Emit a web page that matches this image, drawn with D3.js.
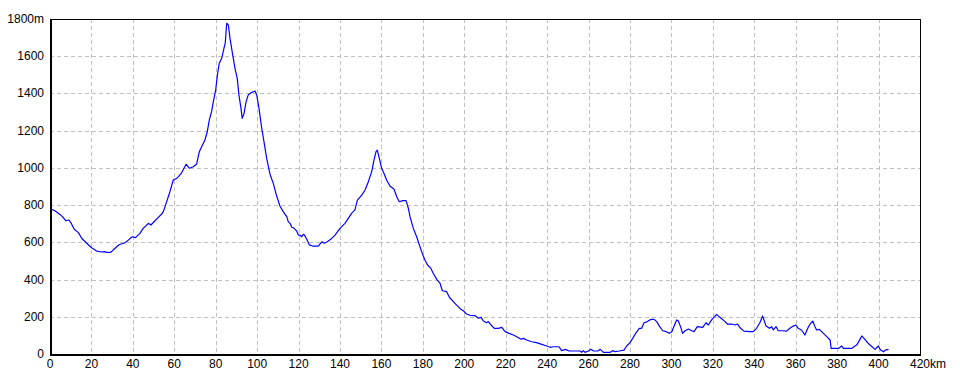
<!DOCTYPE html>
<html>
<head>
<meta charset="utf-8">
<script src="https://cdn.jsdelivr.net/npm/d3@7"></script>
<style>
  html, body { margin: 0; padding: 0; background: #fff; }
  svg { display: block; }
  text { font-family: "Liberation Sans", Arial, sans-serif; font-size: 12px; fill: #000; }
</style>
</head>
<body>
<svg id="chart" width="960" height="384"></svg>
<script>
// Distance along route (km)
const distanceKm = [0,2.4,4.8,6,7.6,9.2,10.1,11.7,13.7,15.3,17.7,20.1,22.5,25,26.3,27.4,29.3,31.4,33.3,36.2,37.8,39.7,41.3,43.4,45,47.5,48.7,50.7,52.3,53.9,54.7,55.8,57.9,59.5,61.2,62,63.6,65.7,67.3,69.2,70.8,72.1,73.2,74.8,75.9,76.9,78,78.8,80,80.8,81.7,82.9,84,84.6,85.3,86.1,86.9,88.2,89.3,90.4,91.2,92.2,92.8,93.7,94.6,95.7,97.4,99,99.8,100.9,102.2,103.3,104.6,106.2,107.8,109.2,111,112.6,113.4,114.3,115,115.9,116.7,117.5,118.3,119.1,119.9,120.7,121.5,122.3,122.8,123.9,125.2,126.8,128.4,129.5,131.2,132.3,133.9,135.5,137.6,140,142.4,144,145.6,147.2,148.4,150.5,152.1,153.7,155.3,156.4,157.4,158,159,160.1,161.2,162.5,164.1,166.1,167.4,168.6,170.3,171.9,173,173.8,175.4,177,178.6,179.4,181,182.3,183.9,185,186.7,188.3,189.4,191.5,192.8,194.7,196.3,197.9,199.5,201.1,202.8,205.2,206.8,208.1,209.2,210.8,211.6,212.9,214.5,216.4,218.1,219.7,221.6,223.7,225.3,227.4,228.5,230.1,232.5,234.9,237.4,239.8,241.4,243,245.7,247,248.9,250.6,252.7,255.9,256.7,257.5,258.3,259.9,261.1,262.4,264.5,265.6,267.2,270.5,271.6,272.9,274.8,277.1,278.4,280,281.3,282.9,284.5,285.6,286.8,288.4,290,291.6,292.9,294.2,295.8,297.5,299,300.2,301.3,302.5,303.3,304.4,305.4,306.6,308.2,309.8,310.9,312.5,315.1,316.7,317.8,319.4,321.8,323.4,325.9,327,329.1,330.7,331.9,333.4,335,337.9,339.5,341.1,342.7,344,344.4,345.7,347.3,348.4,349.2,350.5,351.6,353.7,355.6,357.2,358.8,360.1,361.2,362.8,364.4,366,367.2,368.2,369.3,370.1,371.4,373.4,375,376.6,377.1,379,380.6,381.4,382.2,383,385,387,388.1,389.4,390.7,391.9,393,394.3,395.9,398.3,399.9,401,402.4,403.2,404.8];
// Elevation (m)
const elevationM = [780,770,750,738,716,720,705,670,652,622,595,571,553,548,550,546,546,568,587,598,612,630,625,648,675,702,693,716,734,752,765,800,872,935,944,953,975,1020,998,1006,1021,1087,1114,1150,1194,1257,1302,1352,1419,1499,1562,1589,1643,1670,1777,1768,1696,1607,1535,1481,1392,1320,1266,1293,1352,1392,1406,1413,1392,1320,1213,1141,1051,966,917,858,795,765,752,738,711,702,681,679,670,661,639,639,630,643,639,618,586,580,580,580,603,595,603,616,639,675,702,729,756,774,827,854,881,926,980,1042,1087,1096,1051,998,971,935,903,885,845,818,824,824,783,738,675,630,577,550,505,478,460,434,401,380,340,335,305,281,263,245,233,215,208,206,192,197,177,168,174,156,138,138,143,120,111,102,93,79,84,75,66,61,52,43,36,39,39,18,25,16,16,16,9,18,9,16,25,16,16,25,9,9,18,13,16,21,43,61,84,114,138,138,168,174,186,186,174,150,125,120,111,120,150,183,179,147,111,125,134,125,120,147,143,168,156,183,213,197,174,161,161,156,161,138,123,120,120,138,168,204,192,150,138,147,129,147,125,125,123,138,150,156,138,129,102,143,165,177,147,129,132,111,93,75,30,30,30,36,43,30,30,30,39,48,72,97,84,66,48,25,43,21,12,21,25];

const xTicks = [0,20,40,60,80,100,120,140,160,180,200,220,240,260,280,300,320,340,360,380,400,420];
const yTicks = [0,200,400,600,800,1000,1200,1400,1600,1800];

const svg = d3.select("#chart");
const L = 50, R = 920, T = 19, B = 354;

const x = d3.scaleLinear().domain([0, 420]).range([L, R]);
const y = d3.scaleLinear().domain([0, 1800]).range([B, T]);

// grid
const grid = svg.append("g").attr("shape-rendering", "crispEdges");
grid.selectAll("line.v").data(xTicks.slice(1, -1)).join("line")
  .attr("x1", d => Math.round(x(d)) + 0.5).attr("x2", d => Math.round(x(d)) + 0.5)
  .attr("y1", T).attr("y2", B)
  .attr("stroke", "#c0c0c0").attr("stroke-dasharray", "4,3");
grid.selectAll("line.h").data(yTicks.slice(1, -1)).join("line")
  .attr("y1", d => Math.round(y(d)) + 0.5).attr("y2", d => Math.round(y(d)) + 0.5)
  .attr("x1", L).attr("x2", R)
  .attr("stroke", "#c0c0c0").attr("stroke-dasharray", "4,3");

// line
const line = d3.line().x((d, i) => x(distanceKm[i])).y(d => y(d));
svg.append("path").datum(elevationM)
  .attr("d", line)
  .attr("fill", "none").attr("stroke", "#0000ff").attr("stroke-width", 1.2)
  .attr("stroke-linejoin", "round");

// frame
svg.append("rect").attr("x", L + 0.5).attr("y", T + 0.5)
  .attr("width", R - L).attr("height", B - T)
  .attr("fill", "none").attr("stroke", "#000").attr("stroke-width", 1)
  .attr("shape-rendering", "crispEdges");
// thicker left & bottom axis
svg.append("line").attr("x1", L + 0.5).attr("x2", L + 0.5).attr("y1", T).attr("y2", B + 1)
  .attr("stroke", "#000").attr("stroke-width", 2).attr("shape-rendering", "crispEdges");
svg.append("line").attr("x1", L).attr("x2", R + 1).attr("y1", B + 0.5).attr("y2", B + 0.5)
  .attr("stroke", "#000").attr("stroke-width", 2).attr("shape-rendering", "crispEdges");

// x labels
const xl = svg.append("g");
xTicks.forEach(d => {
  if (d === 420) {
    const t = xl.append("text").attr("y", 368).text("420");
    const w = t.node().getComputedTextLength();
    t.attr("x", x(d) - w / 2);
    t.append("tspan").text("km");
  } else {
    xl.append("text").attr("x", x(d)).attr("y", 368).attr("text-anchor", "middle").text(d);
  }
});

// y labels
svg.append("g").selectAll("text").data(yTicks).join("text")
  .attr("x", 44).attr("y", d => y(d) + 4)
  .attr("text-anchor", "end")
  .text(d => d === 1800 ? "1800m" : d);
</script>
</body>
</html>
